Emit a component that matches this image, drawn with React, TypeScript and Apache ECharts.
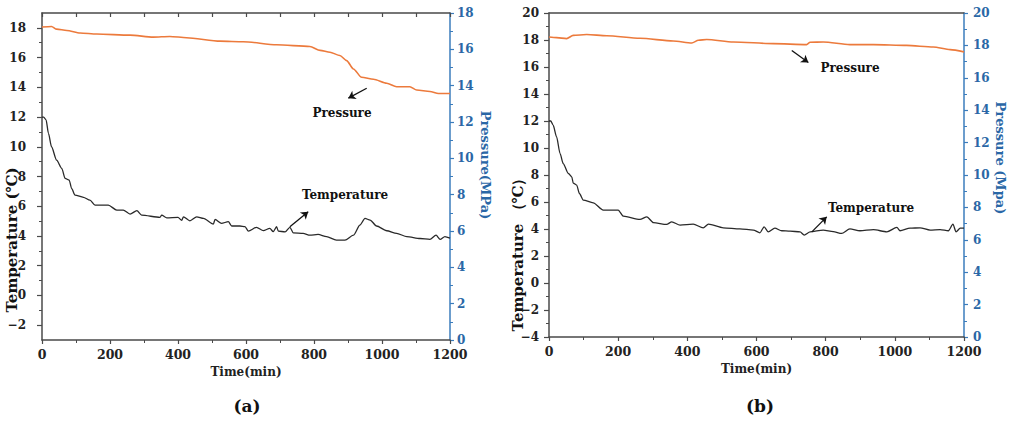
import React, { useEffect, useRef } from "react";
import * as echarts from "echarts";

// ---------- data: panel (a) ----------
const timeTempA = [0, 5, 12, 19, 28, 43, 58, 68, 80, 87, 97, 122, 141, 156, 195, 220, 239, 259, 279, 293, 347, 352, 367, 400, 411, 416, 435, 455, 475, 504, 509, 528, 548, 558, 582, 597, 607, 631, 651, 670, 680, 690, 695, 715, 729, 739, 768, 788, 812, 837, 866, 891, 916, 935, 950, 965, 984, 1014, 1043, 1073, 1112, 1141, 1159, 1171, 1185, 1200];
const tempA = [12.0, 12.0, 11.8, 10.9, 10.0, 9.1, 8.55, 7.87, 7.76, 7.2, 6.75, 6.6, 6.41, 6.07, 6.07, 5.74, 5.74, 5.47, 5.7, 5.4, 5.25, 5.4, 5.22, 5.25, 5.05, 5.29, 5.02, 5.29, 5.18, 4.8, 5.11, 4.85, 4.96, 4.67, 4.67, 4.63, 4.33, 4.58, 4.36, 4.51, 4.29, 4.62, 4.33, 4.27, 4.58, 4.21, 4.17, 4.05, 4.1, 3.95, 3.72, 3.72, 4.05, 4.73, 5.18, 5.07, 4.67, 4.35, 4.17, 3.96, 3.83, 3.77, 4.05, 3.77, 3.96, 3.85];
const timePresA = [0, 28, 43, 73, 112, 161, 259, 327, 376, 425, 524, 592, 690, 788, 818, 847, 876, 896, 916, 940, 975, 1014, 1043, 1082, 1102, 1141, 1166, 1200];
const presA = [17.23, 17.26, 17.11, 17.04, 16.9, 16.84, 16.78, 16.67, 16.71, 16.64, 16.45, 16.42, 16.25, 16.16, 15.94, 15.84, 15.66, 15.38, 14.92, 14.46, 14.35, 14.13, 13.94, 13.94, 13.76, 13.68, 13.57, 13.57];

// ---------- data: panel (b) ----------
const timeTempB = [0, 5, 12, 22, 32, 41, 56, 66, 70, 80, 88, 99, 128, 157, 200, 215, 263, 283, 302, 340, 355, 379, 417, 446, 461, 504, 552, 591, 610, 622, 634, 653, 673, 697, 726, 738, 755, 793, 822, 846, 870, 899, 938, 977, 1006, 1015, 1044, 1073, 1102, 1131, 1155, 1168, 1177, 1189, 1200];
const tempB = [12.0, 12.0, 11.69, 10.82, 9.59, 8.85, 8.11, 7.86, 7.4, 7.25, 6.63, 6.14, 5.94, 5.4, 5.4, 4.95, 4.71, 4.9, 4.47, 4.34, 4.53, 4.29, 4.36, 4.09, 4.36, 4.09, 4.01, 3.92, 3.72, 4.16, 3.79, 4.06, 3.87, 3.84, 3.79, 3.55, 3.79, 3.92, 3.8, 3.67, 4.01, 3.87, 3.95, 3.79, 4.12, 3.87, 4.06, 4.09, 3.92, 3.95, 3.87, 4.36, 3.79, 4.06, 4.06];
const timePresB = [0, 22, 51, 70, 109, 167, 263, 359, 413, 432, 456, 533, 649, 745, 755, 793, 870, 938, 1034, 1111, 1160, 1200];
const presB = [18.52, 18.48, 18.42, 18.62, 18.67, 18.6, 18.44, 18.27, 18.15, 18.32, 18.36, 18.21, 18.11, 18.05, 18.19, 18.21, 18.05, 18.05, 18.0, 17.9, 17.74, 17.6];

// ---------- tick labels ----------
const tempTicksA = [-2, 0, 2, 4, 6, 8, 10, 12, 14, 16, 18];
const tempMinorTicksA = [-1, 1, 3, 5, 7, 9, 11, 13, 15, 17];

// ---------- annotation arrows (data coords on temperature axis) ----------
const arrowPresA = [[955, 13.94], [901, 13.27]];
const arrowTempA = [[729, 4.62], [783, 5.63]];
const arrowPresB = [[702, 17.22], [750, 16.33]];
const arrowTempB = [[760, 3.79], [803, 4.9]];

const zip = (xs: number[], ys: number[]) => xs.map((x, i) => [x, ys[i]]);
const fmt = (v: number) => String(v).replace("-", "\u2212");

const FONT = "DejaVu Serif";
const DARK = "#2a2a2a";
const ORANGE = "#ec7a3c";
const BLUE = "#2a67a6";
const AXIS = "#4a4a4a";

export default function App() {
  const ref = useRef<HTMLDivElement>(null);
  useEffect(() => {
    if (!ref.current) return;
    const chart = echarts.init(ref.current, undefined, { renderer: "svg" });

    const darkLabel = { color: "#222", fontFamily: FONT, fontWeight: "bold" as const, fontSize: 12 };
    const blueLabel = { color: BLUE, fontFamily: FONT, fontWeight: "bold" as const, fontSize: 12 };
    const darkLine = { lineStyle: { color: AXIS, width: 1.5 } };
    const blueLine = { lineStyle: { color: "#3b7cbc", width: 1.5 } };

    const bottomX = (gridIndex: number) => ({
      type: "value",
      gridIndex,
      position: "bottom",
      min: 0,
      max: 1200,
      interval: 200,
      name: "Time(min)",
      nameLocation: "middle",
      nameGap: 26,
      nameTextStyle: { ...darkLabel, fontSize: 12 },
      axisLine: { show: true, onZero: false, ...darkLine },
      axisTick: { show: true, length: 4, lineStyle: { color: AXIS, width: 1.2 } },
      minorTick: { show: true, splitNumber: 2, length: 3, lineStyle: { color: AXIS, width: 1 } },
      axisLabel: { ...darkLabel, fontSize: 12.5, margin: 8, formatter: fmt },
      splitLine: { show: false },
    });
    const topX = (gridIndex: number, ticks: boolean) => ({
      type: "value",
      gridIndex,
      position: "top",
      min: 0,
      max: 1200,
      interval: 100,
      axisLine: { show: true, onZero: false, ...darkLine },
      axisTick: { show: ticks, inside: true, length: 4, lineStyle: { color: AXIS, width: 1.2 } },
      axisLabel: { show: false },
      splitLine: { show: false },
    });

    const arrowLine = (a: number[][], b: number[][]) => ({
      silent: true,
      symbol: ["none", "arrow"],
      symbolSize: 7,
      label: { show: false },
      lineStyle: { color: "#111", width: 1.3, type: "solid" },
      data: [
        [{ coord: a[0] }, { coord: a[1] }],
        [{ coord: b[0] }, { coord: b[1] }],
      ],
    });

    const txt = (text: string, x: number, y: number, size: number, color: string, rotation = 0) => ({
      type: "text",
      x,
      y,
      rotation,
      style: {
        text,
        fill: color,
        font: `bold ${size}px "${FONT}"`,
        textAlign: "center",
        textVerticalAlign: "middle",
      },
    });

    chart.setOption({
      animation: false,
      backgroundColor: "#ffffff",
      grid: [
        { left: 42, top: 13, width: 408, height: 327 },
        { left: 549, top: 13, width: 415, height: 324 },
      ],
      xAxis: [bottomX(0), topX(0, true), bottomX(1), topX(1, false)],
      yAxis: [
        {
          type: "value",
          gridIndex: 0,
          position: "left",
          min: -3,
          max: 19,
          axisLine: { show: true, onZero: false, ...darkLine },
          axisTick: { show: true, customValues: tempTicksA, length: 5, lineStyle: { color: AXIS, width: 1.2 } },
          axisLabel: { ...darkLabel, customValues: tempTicksA, margin: 16, formatter: fmt },
          splitLine: { show: false },
        },
        {
          type: "value",
          gridIndex: 0,
          position: "left",
          min: -3,
          max: 19,
          axisLine: { show: false },
          axisTick: { show: true, customValues: tempMinorTicksA, length: 3, lineStyle: { color: AXIS, width: 1 } },
          axisLabel: { show: false },
          splitLine: { show: false },
        },
        {
          type: "value",
          gridIndex: 0,
          position: "right",
          min: 0,
          max: 18,
          interval: 2,
          axisLine: { show: true, onZero: false, ...blueLine },
          axisTick: { show: true, length: 4, lineStyle: { color: "#3b7cbc", width: 1.2 } },
          minorTick: { show: true, splitNumber: 2, length: 3, lineStyle: { color: "#3b7cbc", width: 1 } },
          axisLabel: { ...blueLabel, margin: 7, formatter: fmt },
          splitLine: { show: false },
        },
        {
          type: "value",
          gridIndex: 1,
          position: "left",
          min: -4,
          max: 20,
          interval: 2,
          axisLine: { show: true, onZero: false, ...darkLine },
          axisTick: { show: true, length: 5, lineStyle: { color: AXIS, width: 1.2 } },
          minorTick: { show: true, splitNumber: 2, length: 3, lineStyle: { color: AXIS, width: 1 } },
          axisLabel: { ...darkLabel, margin: 10, formatter: fmt },
          splitLine: { show: false },
        },
        {
          type: "value",
          gridIndex: 1,
          position: "right",
          min: 0,
          max: 20,
          interval: 2,
          axisLine: { show: true, onZero: false, ...blueLine },
          axisTick: { show: true, length: 4, lineStyle: { color: "#3b7cbc", width: 1.2 } },
          minorTick: { show: true, splitNumber: 2, length: 3, lineStyle: { color: "#3b7cbc", width: 1 } },
          axisLabel: { ...blueLabel, margin: 9, formatter: fmt },
          splitLine: { show: false },
        },
      ],
      series: [
        {
          name: "Temperature (a)",
          type: "line",
          xAxisIndex: 0,
          yAxisIndex: 0,
          data: zip(timeTempA, tempA),
          showSymbol: false,
          smooth: 0.25,
          smoothMonotone: "x",
          lineStyle: { color: DARK, width: 1.3 },
          markLine: arrowLine(arrowPresA, arrowTempA),
        },
        {
          name: "Pressure (a)",
          type: "line",
          xAxisIndex: 0,
          yAxisIndex: 2,
          data: zip(timePresA, presA),
          showSymbol: false,
          smooth: 0.25,
          smoothMonotone: "x",
          lineStyle: { color: ORANGE, width: 1.6 },
        },
        {
          name: "Temperature (b)",
          type: "line",
          xAxisIndex: 2,
          yAxisIndex: 3,
          data: zip(timeTempB, tempB),
          showSymbol: false,
          smooth: 0.25,
          smoothMonotone: "x",
          lineStyle: { color: DARK, width: 1.3 },
          markLine: arrowLine(arrowPresB, arrowTempB),
        },
        {
          name: "Pressure (b)",
          type: "line",
          xAxisIndex: 2,
          yAxisIndex: 4,
          data: zip(timePresB, presB),
          showSymbol: false,
          smooth: 0.25,
          smoothMonotone: "x",
          lineStyle: { color: ORANGE, width: 1.6 },
        },
      ],
      graphic: [
        txt("Pressure", 342, 113, 12, "#111"),
        txt("Temperature", 345, 195, 12, "#111"),
        txt("Pressure", 850, 68, 12, "#111"),
        txt("Temperature", 871, 208, 12, "#111"),
        txt("Temperature (℃)", 12, 240, 15, "#111", Math.PI / 2),
        txt("Temperature （℃）", 518, 251, 15, "#111", Math.PI / 2),
        txt("Pressure(MPa)", 485, 165, 13, BLUE, -Math.PI / 2),
        txt("Pressure (Mpa)", 1000, 158, 13, BLUE, -Math.PI / 2),
        txt("(a)", 247, 406, 17, "#111"),
        txt("(b)", 760, 406, 17, "#111"),
      ],
    });
    return () => chart.dispose();
  }, []);
  return (
    <div
      ref={ref}
      style={{ position: "absolute", left: 0, top: 0, width: 1024, height: 425, background: "#fff" }}
    />
  );
}
